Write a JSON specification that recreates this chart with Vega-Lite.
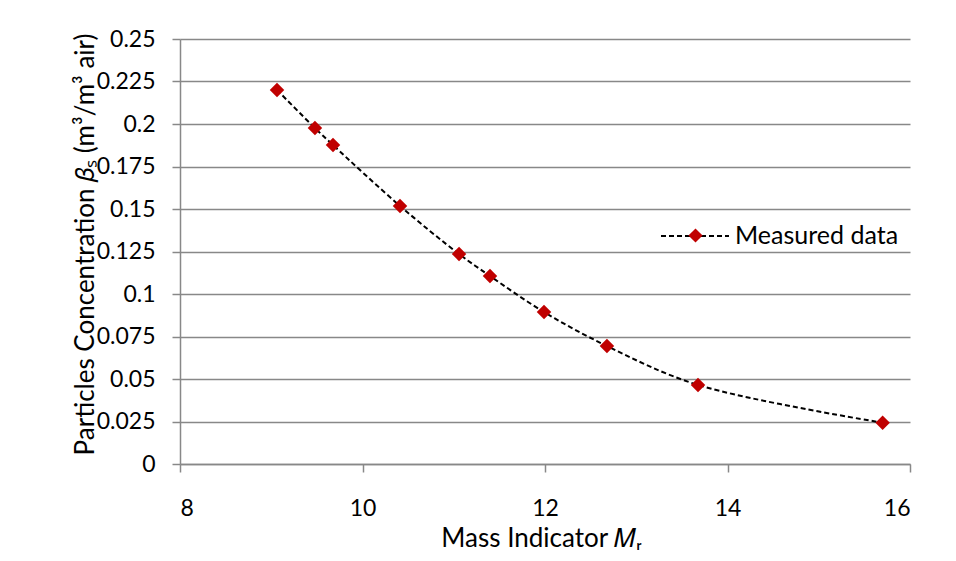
{
  "$schema": "https://vega.github.io/schema/vega-lite/v6.json",
  "width": 730,
  "height": 425,
  "autosize": {"type": "none"},
  "padding": {"left": 180, "top": 39, "right": 46, "bottom": 97},
  "background": "white",
  "config": {
    "view": {"stroke": null},
    "font": "Lato",
    "axis": {
      "labelFont": "Lato",
      "titleFont": "Lato",
      "labelColor": "#000000",
      "titleColor": "#000000",
      "titleFontWeight": "normal",
      "domainColor": "#888888",
      "tickColor": "#888888",
      "gridColor": "#888888",
      "domainWidth": 1.5,
      "tickWidth": 1.5,
      "gridWidth": 1.5,
      "tickSize": 8
    }
  },
  "data": {
    "values": [
      {"Mr": 9.063, "beta": 0.22},
      {"Mr": 9.479, "beta": 0.1976},
      {"Mr": 9.677, "beta": 0.1876},
      {"Mr": 10.411, "beta": 0.1518},
      {"Mr": 11.058, "beta": 0.1235},
      {"Mr": 11.397, "beta": 0.1106},
      {"Mr": 11.989, "beta": 0.0894},
      {"Mr": 12.679, "beta": 0.0694},
      {"Mr": 13.677, "beta": 0.0465},
      {"Mr": 15.7, "beta": 0.0243}
    ]
  },
  "encoding": {
    "x": {
      "field": "Mr",
      "type": "quantitative",
      "scale": {"domain": [8, 16], "nice": false, "zero": false},
      "axis": {
        "values": [8, 10, 12, 14, 16],
        "grid": false,
        "labelFontSize": 23,
        "labelPadding": 25,
        "title": "Mass Indicator 𝑀ᵣ",
        "titleFontSize": 26,
        "titleX": 361,
        "titleY": 74,
        "titleBaseline": "middle",
        "titleAlign": "center"
      }
    },
    "y": {
      "field": "beta",
      "type": "quantitative",
      "scale": {"domain": [0, 0.25], "nice": false},
      "axis": {
        "values": [0, 0.025, 0.05, 0.075, 0.1, 0.125, 0.15, 0.175, 0.2, 0.225, 0.25],
        "format": ".3~f",
        "grid": true,
        "labelFontSize": 23,
        "labelPadding": 17,
        "title": "Particles Concentration 𝛽ₛ (m³/m³ air)",
        "titleFontSize": 26,
        "titleX": -95,
        "titleY": 205,
        "titleBaseline": "middle",
        "titleAlign": "center",
        "titleAngle": -90
      }
    }
  },
  "layer": [
    {
      "mark": {"type": "line", "interpolate": "catmull-rom", "color": "#000000", "strokeWidth": 2},
      "encoding": {
        "strokeDash": {
          "datum": "Measured data",
          "scale": {"range": [[5, 3]]},
          "legend": {
            "orient": "none",
            "legendX": 480,
            "legendY": 162,
            "title": null,
            "padding": 0,
            "symbolType": "stroke",
            "symbolSize": 4624,
            "symbolStrokeColor": "#000000",
            "symbolStrokeWidth": 2,
            "labelFont": "Lato",
            "labelFontSize": 25,
            "labelColor": "#000000",
            "labelOffset": 5,
            "labelLimit": 400,
            "zindex": 1
          }
        }
      }
    },
    {
      "mark": {"type": "point", "filled": true, "color": "#C00000", "opacity": 1, "size": 210},
      "encoding": {
        "shape": {
          "datum": "marker",
          "scale": {"range": ["diamond"]},
          "legend": {
            "orient": "none",
            "legendX": 508,
            "legendY": 189,
            "title": null,
            "padding": 0,
            "symbolType": "diamond",
            "symbolSize": 200,
            "symbolFillColor": "#C00000",
            "symbolStrokeColor": "#C00000",
            "symbolStrokeWidth": 0,
            "symbolOpacity": 1,
            "labelFontSize": 1,
            "labelExpr": "''",
            "labelOpacity": 0,
            "zindex": 2
          }
        }
      }
    }
  ]
}
